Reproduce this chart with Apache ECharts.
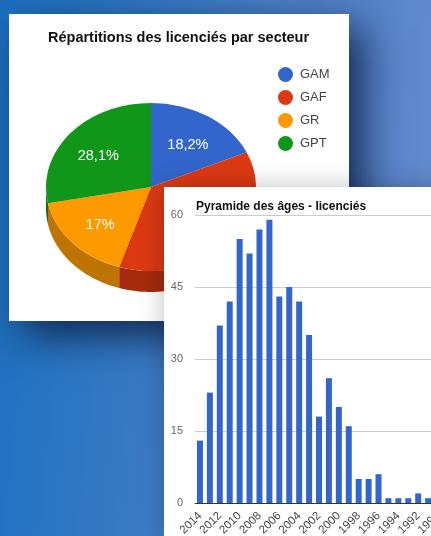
<!DOCTYPE html>
<html>
<head>
<meta charset="utf-8">
<title>Licenciés</title>
<script src="https://cdn.jsdelivr.net/npm/echarts@6/dist/echarts.min.js"></script>
<style>
html, body { margin: 0; width: 431px; height: 536px; overflow: hidden; }
body { position: relative; background: linear-gradient(96deg, #1a6fc0 0%, #3f7cc4 45%, #6a8ccf 100%); font-family: 'Liberation Sans', Arial, sans-serif; }
.card { position: absolute; background: #fff; }
#pieCard { left: 9px; top: 14px; width: 340px; height: 307px; box-shadow: 14px 14px 38px rgba(5, 20, 50, 0.8); }
#barCard { left: 164px; top: 187px; width: 300px; height: 349px; box-shadow: 0 0 24px rgba(0, 0, 0, 0.25); }
#pieChart, #barChart { width: 100%; height: 100%; }
</style>
</head>
<body>
<div class="card" id="pieCard"><div id="pieChart"></div></div>
<div class="card" id="barCard"><div id="barChart"></div></div>
<script>
const sectors = ['GAM', 'GAF', 'GR', 'GPT']
const shares = [18.2, 36.7, 17, 28.1]
const shareLabels = ['18,2%', '36,7%', '17%', '28,1%']
const sliceColors = ['#3366cc', '#dc3912', '#ff9900', '#109618']
const wallColors = ['#264d99', '#a52b0e', '#bf7300', '#0c7112']

const years = ['2014', '2013', '2012', '2011', '2010', '2009', '2008', '2007', '2006', '2005', '2004', '2003', '2002',
  '2001', '2000', '1999', '1998', '1997', '1996', '1995', '1994', '1993', '1992', '1991', '1990']
const licencies = [13, 23, 37, 42, 55, 52, 57, 59, 43, 45, 42, 35, 18, 26, 20, 16, 5, 5, 6, 1, 1, 1, 2, 1, 1]
const yTicks = [0, 15, 30, 45, 60]

// tilted pie geometry, in px inside the card
const cx = 142, cy = 173, rx = 105, ry = 84, depth = 21
const total = shares.reduce((a, b) => a + b, 0)

function sliceAngles(i) {
  const before = shares.slice(0, i).reduce((a, b) => a + b, 0)
  const start = -Math.PI / 2 + before / total * Math.PI * 2
  return [start, start + shares[i] / total * Math.PI * 2]
}

function wallPoints(start, end) {
  // only the front half of the rim shows a side wall
  const top = [], bottom = []
  for (const k of [0, 2]) {
    const a0 = Math.max(start, k * Math.PI), a1 = Math.min(end, (k + 1) * Math.PI)
    if (a1 <= a0) continue
    for (let n = 0; n <= 60; n++) {
      const a = a0 + (a1 - a0) * n / 60
      top.push([cx + rx * Math.cos(a), cy + ry * Math.sin(a)])
      bottom.unshift([cx + rx * Math.cos(a), cy + ry * Math.sin(a) + depth])
    }
  }
  return top.concat(bottom)
}

function renderSlice(i) {
  return () => {
    const [start, end] = sliceAngles(i)
    const mid = (start + end) / 2
    const children = []
    const pts = wallPoints(start, end)
    if (pts.length) children.push({ type: 'polygon', shape: { points: pts }, style: { fill: wallColors[i] } })
    children.push({
      type: 'sector',
      x: cx, y: cy, scaleY: ry / rx,
      shape: { cx: 0, cy: 0, r: rx, r0: 0, startAngle: start, endAngle: end, clockwise: true },
      style: { fill: sliceColors[i] },
    })
    children.push({
      type: 'text',
      x: cx + rx * 0.65 * Math.cos(mid), y: cy + 3 + ry * 0.63 * Math.sin(mid),
      style: { text: shareLabels[i], fill: '#fff', font: "14.5px 'Liberation Sans', Arial, sans-serif", align: 'center', verticalAlign: 'middle' },
    })
    return { type: 'group', children }
  }
}

const pie = echarts.init(document.getElementById('pieChart'), null, { renderer: 'canvas' })
pie.setOption({
  animation: false,
  title: {
    text: 'Répartitions des licenciés par secteur',
    left: 34, top: 11,
    textStyle: { color: '#111', fontSize: 14.5, fontWeight: 'bold', fontFamily: "'Liberation Sans', Arial, sans-serif" },
  },
  legend: {
    orient: 'vertical', left: 269, top: 53, padding: 0,
    icon: 'circle', itemWidth: 15, itemHeight: 15, itemGap: 8,
    data: sectors,
    textStyle: { color: '#444', fontSize: 13, fontFamily: "'Liberation Sans', Arial, sans-serif", padding: [0, 0, 0, 2] },
  },
  series: sectors.map((name, i) => ({
    type: 'custom', name, coordinateSystem: 'none',
    itemStyle: { color: sliceColors[i] },
    data: [shares[i]],
    renderItem: renderSlice(i),
    silent: true,
  })),
})

const bar = echarts.init(document.getElementById('barChart'), null, { renderer: 'canvas' })
bar.setOption({
  animation: false,
  textStyle: { fontFamily: "'Liberation Sans', Arial, sans-serif" },
  title: {
    text: 'Pyramide des âges - licenciés',
    left: 27, top: 9,
    textStyle: { color: '#111', fontSize: 12, fontWeight: 'bold', fontFamily: "'Liberation Sans', Arial, sans-serif" },
  },
  // the card runs past the window edge, keep the plot at its set size
  grid: { left: 31, top: 28, width: 248, height: 288, outerBoundsMode: 'none' },
  xAxis: {
    type: 'category', data: years,
    axisLine: { lineStyle: { color: '#333', width: 1 } },
    axisTick: { show: false },
    axisLabel: { interval: 1, rotate: 45, color: '#444', fontSize: 11.5, margin: 11 },
    splitLine: { show: false },
  },
  yAxis: {
    type: 'value', min: yTicks[0], max: yTicks[yTicks.length - 1], interval: 15,
    axisLine: { show: false },
    axisTick: { show: false },
    axisLabel: { color: '#666', fontSize: 11, margin: 12 },
    splitLine: { lineStyle: { color: '#ccc', width: 1 } },
  },
  series: [{
    type: 'bar', name: 'Licenciés', data: licencies,
    barWidth: 6,
    itemStyle: { color: '#3366cc' },
  }],
})
</script>
</body>
</html>
